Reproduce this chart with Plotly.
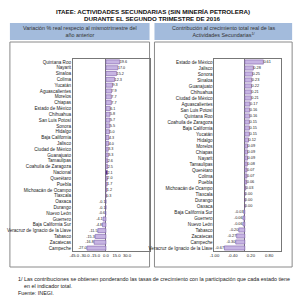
import plotly.graph_objects as go

W, H = 300, 298

states_var = ["Quintana Roo", "Nayarit", "Sinaloa", "Colima", "Yucatán", "Aguascalientes",
              "Morelos", "Chiapas", "Estado de México", "Chihuahua", "San Luis Potosí",
              "Sonora", "Hidalgo", "Baja California", "Jalisco", "Ciudad de México",
              "Guanajuato", "Tamaulipas", "Coahuila de Zaragoza", "Nacional", "Querétaro",
              "Puebla", "Michoacán de Ocampo", "Tlaxcala", "Oaxaca", "Durango", "Nuevo León",
              "Guerrero", "Baja California Sur", "Veracruz de Ignacio de la Llave", "Tabasco",
              "Zacatecas", "Campeche"]
values_var = [19.6, 17.0, 15.2, 12.3, 9.3, 7.9, 7.7, 7.7, 6.1, 5.8, 5.7, 5.5, 5.0, 4.3, 4.0,
              3.3, 3.3, 2.6, 2.5, 2.1, 2.0, 1.7, 1.2, 0.3, -0.1, -0.1, -0.6, -4.1, -4.8,
              -11.5, -15.3, -16.8, -27.0]

states_con = ["Estado de México", "Jalisco", "Sonora", "Sinaloa", "Guanajuato", "Chihuahua",
              "Ciudad de México", "Aguascalientes", "San Luis Potosí", "Quintana Roo",
              "Coahuila de Zaragoza", "Baja California", "Yucatán", "Hidalgo", "Morelos",
              "Chiapas", "Nayarit", "Tamaulipas", "Querétaro", "Colima", "Puebla",
              "Michoacán de Ocampo", "Tlaxcala", "Durango", "Oaxaca", "Baja California Sur",
              "Guerrero", "Nuevo León", "Tabasco", "Zacatecas", "Campeche",
              "Veracruz de Ignacio de la Llave"]
values_con = [0.61, 0.28, 0.25, 0.23, 0.22, 0.21, 0.21, 0.17, 0.16, 0.16, 0.15, 0.15, 0.15,
              0.12, 0.09, 0.09, 0.09, 0.08, 0.07, 0.07, 0.06, 0.03, 0.00, 0.00, 0.00, -0.03,
              -0.06, -0.06, -0.20, -0.27, -0.30, -0.67]

ticks_var = [-45, -30, -15, 0, 15, 30]
ticks_con = [-1.0, -0.4, 0.2, 0.8]

FONT = "Liberation Sans"
BAR = "#c7b5e3"
BAR_LINE = "#7a5aa8"
NAC = "#4b1f86"

colors_var = [NAC if s == "Nacional" else BAR for s in states_var]

fig = go.Figure()
fig.add_trace(go.Bar(
    x=values_var, y=states_var, orientation="h",
    marker=dict(color=colors_var, line=dict(color=BAR_LINE, width=0.6)),
    text=[f"{v:.1f}" for v in values_var], textposition="outside",
    textfont=dict(size=4.6, color="#222", family=FONT), cliponaxis=False,
    xaxis="x", yaxis="y", showlegend=False))
fig.add_trace(go.Bar(
    x=values_con, y=states_con, orientation="h",
    marker=dict(color=BAR, line=dict(color=BAR_LINE, width=0.6)),
    text=[f"{v:.2f}" for v in values_con], textposition="outside",
    textfont=dict(size=4.6, color="#222", family=FONT), cliponaxis=False,
    xaxis="x2", yaxis="y2", showlegend=False))

def px(x):
    return x / W

def py(y):
    return 1 - y / H

axis_common = dict(showgrid=False, ticks="", showline=True, linecolor="#777", linewidth=0.8,
                   mirror=True, tickfont=dict(size=4.6, color="#222", family=FONT))
xtick_font = dict(size=4.2, color="#222", family=FONT)

fig.update_layout(
    width=W, height=H, autosize=False,
    margin=dict(l=0, r=0, t=0, b=0),
    paper_bgcolor="white", plot_bgcolor="white",
    bargap=0.3,
    font=dict(family=FONT, color="#222"),
    xaxis=dict(domain=[px(69), px(147)], anchor="y", range=[-47, 62],
               tickmode="array", tickvals=ticks_var, ticktext=[f"{t:.1f}" for t in ticks_var],
               tickangle=0, zeroline=True, zerolinecolor="#777", zerolinewidth=0.8,
               showgrid=False, ticks="", showline=True, linecolor="#777", linewidth=0.8,
               mirror=True, tickfont=xtick_font),
    yaxis=dict(domain=[py(251), py(59)], anchor="x", autorange="reversed",
               categoryorder="array", categoryarray=states_var,
               tickmode="array", tickvals=states_var, ticktext=states_var, **axis_common),
    xaxis2=dict(domain=[px(213), px(281)], anchor="y2", range=[-1.0, 1.2],
                tickmode="array", tickvals=ticks_con, ticktext=[f"{t:.2f}" for t in ticks_con],
                tickangle=0, zeroline=True, zerolinecolor="#777", zerolinewidth=0.8,
                showgrid=False, ticks="", showline=True, linecolor="#777", linewidth=0.8,
                mirror=True, tickfont=xtick_font),
    yaxis2=dict(domain=[py(251), py(59)], anchor="x2", autorange="reversed",
                categoryorder="array", categoryarray=states_con,
                tickmode="array", tickvals=states_con, ticktext=states_con, **axis_common),
)

shapes = []
shapes.append(dict(type="rect", xref="paper", yref="paper", x0=px(5), x1=px(147),
                   y0=py(40), y1=py(23), fillcolor="#a3bbdc", line=dict(width=0), layer="below"))
shapes.append(dict(type="rect", xref="paper", yref="paper", x0=px(152), x1=px(292),
                   y0=py(40), y1=py(23), fillcolor="#a3bbdc", line=dict(width=0), layer="below"))
shapes.append(dict(type="rect", xref="paper", yref="paper", x0=px(5), x1=px(147),
                   y0=py(267), y1=py(42), fillcolor="rgba(0,0,0,0)",
                   line=dict(color="#8a8a8a", width=1), layer="below"))
shapes.append(dict(type="rect", xref="paper", yref="paper", x0=px(152), x1=px(292),
                   y0=py(267), y1=py(42), fillcolor="rgba(0,0,0,0)",
                   line=dict(color="#8a8a8a", width=1), layer="below"))
fig.update_layout(shapes=shapes)

ann = []
ann.append(dict(text="<b>ITAEE: ACTIVIDADES SECUNDARIAS (SIN MINERÍA PETROLERA)</b>",
                x=0.5, y=py(12), xref="paper", yref="paper", showarrow=False,
                font=dict(size=6.2, color="#111", family=FONT), xanchor="center", yanchor="middle"))
ann.append(dict(text="<b>DURANTE EL SEGUNDO TRIMESTRE DE 2016</b>",
                x=0.5, y=py(18), xref="paper", yref="paper", showarrow=False,
                font=dict(size=6.2, color="#111", family=FONT), xanchor="center", yanchor="middle"))
ann.append(dict(text="Variación % real respecto al mismotrimestre del<br>año anterior",
                x=px(76), y=py(31.5), xref="paper", yref="paper", showarrow=False,
                font=dict(size=5.4, color="#333", family=FONT), xanchor="center", yanchor="middle"))
ann.append(dict(text="Contribución al crecimiento total real de las<br>Actividades Secundarias<sup>1/</sup>",
                x=px(222), y=py(31.5), xref="paper", yref="paper", showarrow=False,
                font=dict(size=5.4, color="#333", family=FONT), xanchor="center", yanchor="middle"))
ann.append(dict(text="1/ Las contribuciones se obtienen ponderando las tasas de crecimiento con la participación que cada estado tiene<br>    en el indicador total.<br>Fuente: INEGI.",
                x=px(11), y=py(274), xref="paper", yref="paper", showarrow=False, align="left",
                font=dict(size=5.4, color="#222", family=FONT), xanchor="left", yanchor="top"))
fig.update_layout(annotations=ann)

fig.write_html("out.html")
